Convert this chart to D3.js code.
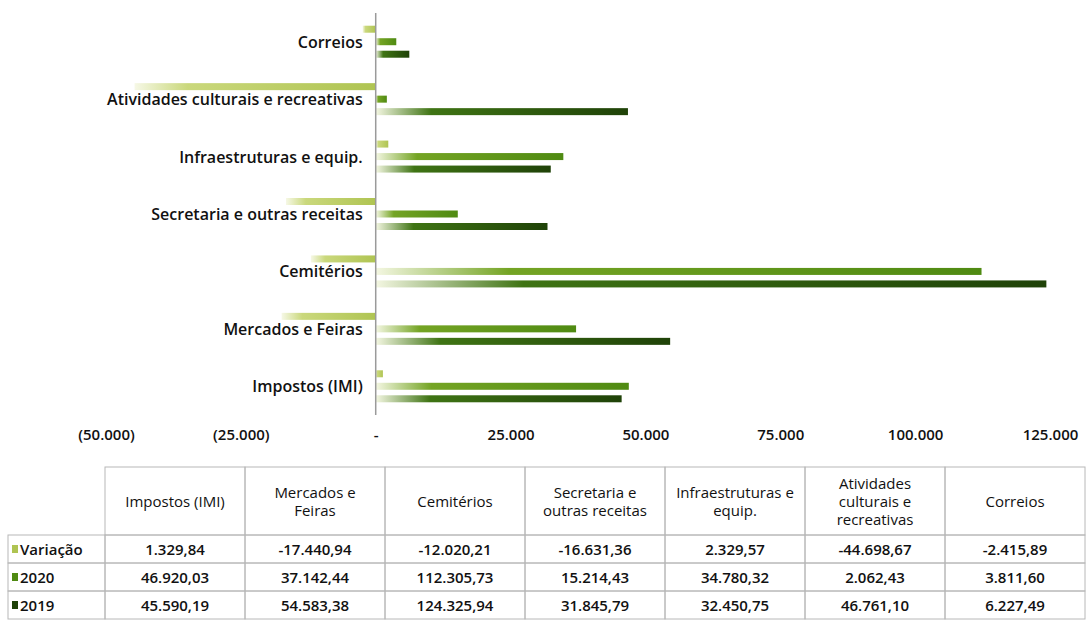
<!DOCTYPE html>
<html><head><meta charset="utf-8">
<script src="https://cdn.jsdelivr.net/npm/d3@7"></script>
<style>
html,body{margin:0;padding:0;background:#fff;}
svg{display:block;font-family:"Open Sans", Lato, sans-serif;}
</style></head>
<body><svg id="c" width="1086" height="627"></svg>
<script>
// ---- data ----
const categories = ["Impostos (IMI)", "Mercados e Feiras", "Cemitérios", "Secretaria e outras receitas", "Infraestruturas e equip.", "Atividades culturais e recreativas", "Correios"];
const seriesNames = ["Variação", "2020", "2019"];
const variacao = [1329.84, -17440.94, -12020.21, -16631.36, 2329.57, -44698.67, -2415.89];
const values2020 = [46920.03, 37142.44, 112305.73, 15214.43, 34780.32, 2062.43, 3811.60];
const values2019 = [45590.19, 54583.38, 124325.94, 31845.79, 32450.75, 46761.10, 6227.49];
const tickValues = [-50000, -25000, 0, 25000, 50000, 75000, 100000, 125000];
const headerLines = [["Impostos (IMI)"], ["Mercados e", "Feiras"], ["Cemitérios"], ["Secretaria e", "outras receitas"], ["Infraestruturas e", "equip."], ["Atividades", "culturais e", "recreativas"], ["Correios"]];

const seriesValues = [variacao, values2020, values2019];
const colors = [
  {start:"#f6f8e6", mid:"#cad87c", end:"#afc452"},
  {start:"#f4f7e2", mid:"#74a424", end:"#4f8a12"},
  {start:"#f4f7e2", mid:"#3f7414", end:"#1f4208"}
];

const svg = d3.select("#c");
const defs = svg.append("defs");
colors.forEach((c,i)=>{
  const g = defs.append("linearGradient").attr("id","g"+i).attr("x1","0").attr("x2","1").attr("y1","0").attr("y2","0");
  g.append("stop").attr("offset","0").attr("stop-color",c.start);
  g.append("stop").attr("offset","0.22").attr("stop-color",c.mid);
  g.append("stop").attr("offset","1").attr("stop-color",c.end);
});

const locale = d3.formatLocale({decimal:",", thousands:".", grouping:[3], currency:["","€"], minus:"-"});
const fmtInt = locale.format(",.0f");
const fmtVal = locale.format(",.2f");
const tickFmt = v => v === 0 ? "-" : (v < 0 ? "(" + fmtInt(-v) + ")" : fmtInt(v));

const x = d3.scaleLinear().domain([-50000, 125000]).range([106, 1050]);
const y = d3.scaleBand().domain(categories.slice().reverse()).range([13, 415]).padding(0);
const inner = d3.scaleBand().domain(seriesNames).range([-18.75, 18.75]).paddingInner(0.44).paddingOuter(0.22);

// bars
const bars = svg.append("g");
seriesNames.forEach((s,si)=>{
  bars.selectAll(null).data(categories.map((c,ci)=>({c, v:seriesValues[si][ci]})))
    .enter().append("rect")
    .attr("x", d=>x(Math.min(0,d.v)))
    .attr("width", d=>Math.abs(x(d.v)-x(0)))
    .attr("y", d=>y(d.c)+y.bandwidth()/2+inner(s))
    .attr("height", inner.bandwidth())
    .attr("fill", "url(#g"+si+")");
});

// axis line
svg.append("line").attr("x1",x(0)).attr("x2",x(0)).attr("y1",13).attr("y2",415)
  .attr("stroke","#9a9a9a").attr("stroke-width",1.5);

// category labels
svg.append("g").selectAll("text").data(categories).enter().append("text")
  .attr("x", x(0)-13).attr("y", d=>y(d)+y.bandwidth()/2)
  .attr("text-anchor","end").attr("dominant-baseline","central")
  .attr("font-size",16).attr("font-weight",600).attr("fill","#111")
  .text(d=>d);

// x axis tick labels
const xAxis = d3.axisBottom(x).tickValues(tickValues).tickFormat(tickFmt).tickSize(0).tickPadding(0);
const ax = svg.append("g").attr("transform","translate(0,429)").call(xAxis);
ax.select(".domain").remove();
ax.selectAll("text").attr("font-size",15).attr("font-weight",600).attr("fill","#111").attr("font-family","'Open Sans', sans-serif");

// table
const colX = d3.scaleBand().domain(categories).range([105, 1085]);
const tbl = svg.append("g");
const border = "#b8b8b8";
const headTop = 467, rowTop = 535, rowH = 28;
categories.forEach((c,i)=>{
  tbl.append("rect").attr("x",colX(c)).attr("y",headTop).attr("width",colX.bandwidth()).attr("height",rowTop-headTop)
    .attr("fill","none").attr("stroke",border);
  const lines = headerLines[i];
  const cy = (headTop+rowTop)/2;
  lines.forEach((l,li)=>{
    tbl.append("text").attr("x",colX(c)+colX.bandwidth()/2).attr("y",cy+(li-(lines.length-1)/2)*18)
      .attr("text-anchor","middle").attr("dominant-baseline","central")
      .attr("font-size",15).attr("fill","#111").text(l);
  });
});
seriesNames.forEach((s,si)=>{
  const ry = rowTop + si*rowH;
  tbl.append("rect").attr("x",8).attr("y",ry).attr("width",97).attr("height",rowH).attr("fill","none").attr("stroke",border);
  tbl.append("rect").attr("x",12).attr("y",ry+rowH/2-4).attr("width",6).attr("height",8).attr("fill",colors[si].end);
  tbl.append("text").attr("x",20).attr("y",ry+rowH/2).attr("dominant-baseline","central")
    .attr("font-size",15).attr("font-weight",600).attr("fill","#111").text(s);
  categories.forEach((c,ci)=>{
    tbl.append("rect").attr("x",colX(c)).attr("y",ry).attr("width",colX.bandwidth()).attr("height",rowH)
      .attr("fill","none").attr("stroke",border);
    tbl.append("text").attr("x",colX(c)+colX.bandwidth()/2).attr("y",ry+rowH/2)
      .attr("text-anchor","middle").attr("dominant-baseline","central")
      .attr("font-size",15).attr("font-weight",600).attr("fill","#111").text(fmtVal(seriesValues[si][ci]));
  });
});
</script></body></html>
